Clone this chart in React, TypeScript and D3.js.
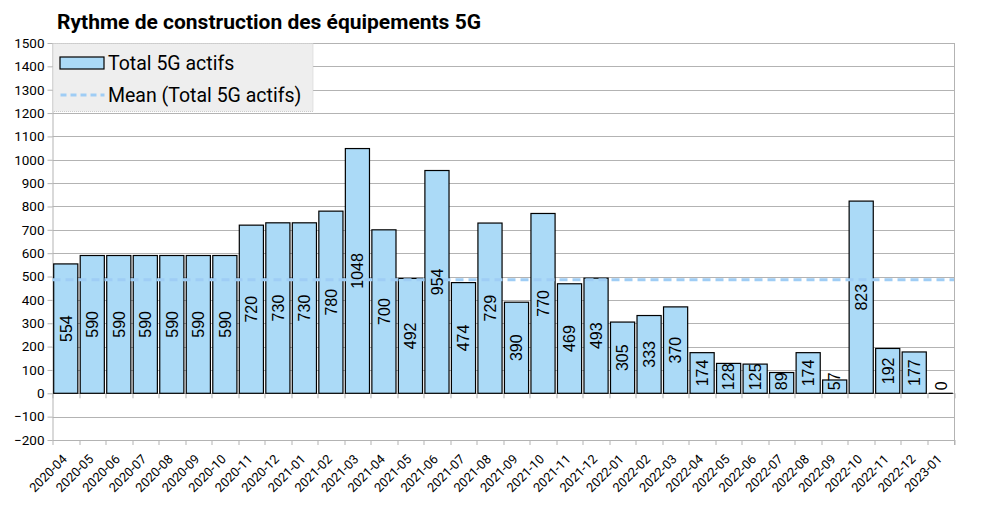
import { useEffect, useRef } from "react";
import * as d3 from "d3";

const months = [
  "2020-04", "2020-05", "2020-06", "2020-07", "2020-08", "2020-09", "2020-10", "2020-11", "2020-12",
  "2021-01", "2021-02", "2021-03", "2021-04", "2021-05", "2021-06", "2021-07", "2021-08", "2021-09",
  "2021-10", "2021-11", "2021-12", "2022-01", "2022-02", "2022-03", "2022-04", "2022-05", "2022-06",
  "2022-07", "2022-08", "2022-09", "2022-10", "2022-11", "2022-12", "2023-01",
];

const totals = [
  554, 590, 590, 590, 590, 590, 590, 720, 730,
  730, 780, 1048, 700, 492, 954, 474, 729, 390,
  770, 469, 493, 305, 333, 370, 174, 128, 125,
  89, 174, 57, 823, 192, 177, 0,
];

const yTicks = d3.range(-200, 1501, 100);

const FONT = "Roboto, 'Liberation Sans', sans-serif";
const LABEL_FONT = "'Liberation Sans', Arial, sans-serif";
const BAR_FILL = "#abdaf7";
const MEAN_COLOR = "#9fcdf5";
const GRID = "#b3b3b3";

const App = () => {
  const svgRef = useRef<SVGSVGElement | null>(null);

  useEffect(() => {
    const svg = d3.select(svgRef.current);
    svg.selectAll("*").remove();

    const width = 985;
    const height = 507;
    const margin = { top: 43, right: 31, bottom: 67, left: 52.5 };
    const innerW = width - margin.left - margin.right;
    const innerH = height - margin.top - margin.bottom;

    svg.attr("width", width).attr("height", height);

    svg.append("text")
      .attr("x", 57)
      .attr("y", 29)
      .style("font-family", FONT)
      .style("font-size", "21px")
      .style("font-weight", "bold")
      .text("Rythme de construction des équipements 5G");

    const g = svg.append("g").attr("transform", `translate(${margin.left},${margin.top})`);

    const x = d3.scaleBand().domain(months).range([0, innerW]).paddingInner(0.09).paddingOuter(0.045);
    const y = d3.scaleLinear().domain([-200, 1500]).range([innerH, 0]);
    const step = x.step();

    // grid
    g.append("g")
      .selectAll("line")
      .data(yTicks)
      .join("line")
      .attr("x1", 0)
      .attr("x2", innerW)
      .attr("y1", (d) => Math.round(y(d)) + 0.5)
      .attr("y2", (d) => Math.round(y(d)) + 0.5)
      .attr("stroke", GRID)
      .attr("stroke-width", 1);

    // right edge of the frame
    g.append("line")
      .attr("x1", innerW + 0.5).attr("x2", innerW + 0.5)
      .attr("y1", 0).attr("y2", innerH + 5)
      .attr("stroke", GRID);

    // y axis
    const yAxis = g.append("g").call(
      d3.axisLeft(y).tickValues(yTicks).tickFormat(d3.format("d")).tickSize(5).tickSizeOuter(0).tickPadding(3)
    );
    yAxis.select(".domain").attr("stroke", GRID);
    yAxis.selectAll(".tick line").attr("stroke", GRID);
    yAxis.selectAll("text")
      .style("font-family", FONT)
      .style("font-size", "13.5px")
      .attr("fill", "#000");

    // category boundary ticks on zero line and at the bottom
    const bounds = d3.range(months.length + 1).map((i) => i * step);
    [y(0), innerH].forEach((yy) => {
      g.append("g")
        .selectAll("line")
        .data(bounds)
        .join("line")
        .attr("x1", (d) => Math.round(d) + 0.5)
        .attr("x2", (d) => Math.round(d) + 0.5)
        .attr("y1", yy)
        .attr("y2", yy + 5)
        .attr("stroke", GRID);
    });

    // bars
    g.append("g")
      .selectAll("rect")
      .data(totals)
      .join("rect")
      .attr("x", (_, i) => x(months[i])!)
      .attr("y", (d) => y(Math.max(d, 0)))
      .attr("width", x.bandwidth())
      .attr("height", (d) => Math.abs(y(0) - y(d)))
      .attr("fill", BAR_FILL)
      .attr("stroke", "#000")
      .attr("stroke-width", 1.2);

    // flat line for the zero bar
    const last = months[months.length - 1];
    g.append("line")
      .attr("x1", x(last)!)
      .attr("x2", x(last)! + x.bandwidth())
      .attr("y1", y(0))
      .attr("y2", y(0))
      .attr("stroke", "#000")
      .attr("stroke-width", 1.2);

    // mean line
    const mean = d3.mean(totals) ?? 0;
    g.append("line")
      .attr("x1", 0)
      .attr("x2", innerW)
      .attr("y1", y(mean))
      .attr("y2", y(mean))
      .attr("stroke", MEAN_COLOR)
      .attr("stroke-width", 3)
      .attr("stroke-dasharray", "8,5");

    // bar labels
    g.append("g")
      .selectAll("text")
      .data(totals)
      .join("text")
      .attr("transform", (d, i) => {
        const cx = x(months[i])! + x.bandwidth() / 2;
        const half = String(d).length * 4.5;
        const cy = Math.min((y(0) + y(d)) / 2, y(0) - half - 3);
        return `translate(${cx + 5.8},${cy}) rotate(-90)`;
      })
      .attr("text-anchor", "middle")
      .style("font-family", LABEL_FONT)
      .style("font-size", "16px")
      .attr("fill", "#000")
      .text((d) => d);

    // x labels
    g.append("g")
      .selectAll("text")
      .data(months)
      .join("text")
      .attr("transform", (d) => `translate(${x(d)! + x.bandwidth() / 2 + 2},${innerH + 20}) rotate(-45)`)
      .attr("text-anchor", "end")
      .style("font-family", FONT)
      .style("font-size", "12.8px")
      .attr("fill", "#000")
      .text((d) => d);

    // legend
    const lg = g.append("g");
    lg.append("rect")
      .attr("x", 0.5).attr("y", 0.5)
      .attr("width", 260).attr("height", 68)
      .attr("fill", "#eeeeee")
      .attr("stroke", "#cccccc")
      .attr("stroke-dasharray", "1,1");
    lg.append("rect")
      .attr("x", 7.5).attr("y", 14)
      .attr("width", 44).attr("height", 12)
      .attr("fill", BAR_FILL)
      .attr("stroke", "#000")
      .attr("stroke-width", 1.2);
    lg.append("text")
      .attr("x", 55.5).attr("y", 26.5)
      .style("font-family", FONT)
      .style("font-size", "19.5px")
      .text("Total 5G actifs");
    lg.append("line")
      .attr("x1", 8).attr("x2", 52)
      .attr("y1", 52).attr("y2", 52)
      .attr("stroke", MEAN_COLOR)
      .attr("stroke-width", 3)
      .attr("stroke-dasharray", "6,4");
    lg.append("text")
      .attr("x", 55.5).attr("y", 58.5)
      .style("font-family", FONT)
      .style("font-size", "19.5px")
      .text("Mean (Total 5G actifs)");
  }, []);

  return <svg ref={svgRef} style={{ position: "absolute", left: 0, top: 0 }} />;
};

export default App;
